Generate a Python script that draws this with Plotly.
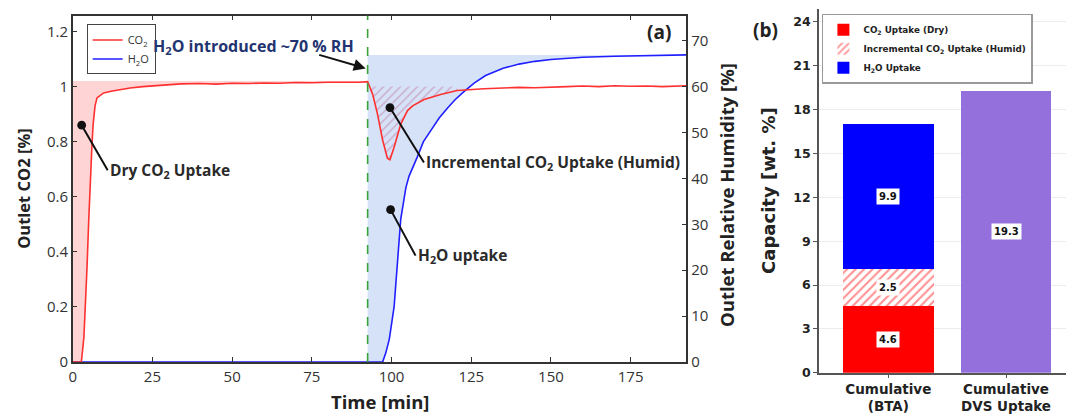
import numpy as np
import plotly.graph_objects as go

# ---------------- data: panel (a) ----------------
co2_time = [0, 2.7, 3.5, 4.0, 4.5, 5.0, 5.5, 6.0, 6.4, 7.0, 7.6, 8.5, 9.7, 12, 15, 18, 22, 28,
            34, 40, 45, 50, 55, 60, 65, 70, 75, 80, 85, 90, 92.5, 94.1, 95.6, 97.2, 98.7, 99.5,
            100.8, 102.9, 105, 106.6, 110.2, 115.4, 120.6, 125, 129, 135, 140, 145, 150, 155,
            160, 165, 170, 175, 180, 185, 192.5]
co2_value = [0, 0, 0.09, 0.2, 0.35, 0.51, 0.675, 0.78, 0.864, 0.93, 0.959, 0.968, 0.977, 0.983,
             0.99, 0.995, 1.0, 1.006, 1.01, 1.011, 1.009, 1.012, 1.011, 1.013, 1.012, 1.015,
             1.014, 1.016, 1.015, 1.016, 1.018, 0.971, 0.90, 0.806, 0.74, 0.734, 0.78, 0.864,
             0.913, 0.93, 0.953, 0.971, 0.986, 0.99, 0.992, 0.995, 0.997, 0.996, 0.999, 1.0,
             1.002, 1.0, 1.003, 1.001, 1.002, 1.0, 1.003]

h2o_time = [0, 92.5, 97.2, 98.2, 99.3, 100.8, 101.9, 102.9, 104.5, 105.5, 108.1, 110, 112.3, 115,
            117.5, 120, 122.7, 126, 129.5, 135, 140, 145, 150, 160, 170, 180, 192.5]
h2o_value = [0, 0, 0, 2, 5, 12, 22.7, 31.2, 38, 40.5, 44.7, 48, 50.4, 53.2, 55.3, 57.2, 58.9,
             60.8, 62.4, 64.0, 64.9, 65.5, 65.9, 66.4, 66.6, 66.8, 66.9]

h2o_start = 92.5          # time humid gas introduced [min]
dry_co2_level = 1.02      # inlet CO2 level used for dry uptake shading
humid_co2_level = 1.0     # reference level for incremental humid uptake
hatch_end = 121           # end of incremental-uptake region [min]

# ---------------- data: panel (b) ----------------
bar_categories = ["Cumulative<br>(BTA)", "Cumulative<br>DVS Uptake"]
co2_dry_uptake = 4.6
co2_humid_increment = 2.5
h2o_uptake = 9.9
dvs_uptake = 19.3

# ---------------- styling ----------------
RED = "#ff3030"
BLUE = "#2020ff"
AX = "#333333"
FONT_A = "Open Sans"
FONT_B = "DejaVu Sans"
W, H = 1066, 419

t = np.array(co2_time, dtype=float)
c = np.array(co2_value, dtype=float)
th = np.array(h2o_time, dtype=float)
h = np.array(h2o_value, dtype=float)

fig = go.Figure()

# --- H2O shaded uptake (RH axis = 'y', drawn underneath) ---
mh = th >= h2o_start
fig.add_trace(go.Scatter(x=th[mh], y=np.full(mh.sum(), h.max()), mode="lines",
                         line=dict(width=0), showlegend=False, hoverinfo="skip",
                         xaxis="x", yaxis="y"))
fig.add_trace(go.Scatter(x=th[mh], y=h[mh], mode="lines", line=dict(width=0),
                         fill="tonexty", fillcolor="#d5e2f7", showlegend=False,
                         hoverinfo="skip", xaxis="x", yaxis="y"))
# H2O line
fig.add_trace(go.Scatter(x=th, y=h, mode="lines", name="H<sub>2</sub>O",
                         line=dict(color=BLUE, width=1.6), xaxis="x", yaxis="y",
                         legend="legend"))

# --- dry CO2 shaded uptake (CO2 axis = 'y2') ---
md = t <= h2o_start
fig.add_trace(go.Scatter(x=t[md], y=np.full(md.sum(), dry_co2_level), mode="lines",
                         line=dict(width=0), showlegend=False, hoverinfo="skip",
                         xaxis="x", yaxis="y2"))
fig.add_trace(go.Scatter(x=t[md], y=np.minimum(c[md], dry_co2_level), mode="lines",
                         line=dict(width=0), fill="tonexty",
                         fillcolor="rgba(255,60,60,0.22)", showlegend=False,
                         hoverinfo="skip", xaxis="x", yaxis="y2"))

# --- incremental humid CO2 uptake (hatched) ---
mi = (t >= h2o_start) & (t <= hatch_end)
fig.add_trace(go.Scatter(x=t[mi], y=np.full(mi.sum(), humid_co2_level), mode="lines",
                         line=dict(width=0), showlegend=False, hoverinfo="skip",
                         xaxis="x", yaxis="y2"))
fig.add_trace(go.Scatter(x=t[mi], y=np.minimum(c[mi], humid_co2_level), mode="lines",
                         line=dict(width=0), fill="tonexty", fillcolor="rgba(0,0,0,0)",
                         fillpattern=dict(shape="/", fgcolor="#c06a96", bgcolor="rgba(0,0,0,0)",
                                          size=6, solidity=0.22),
                         showlegend=False, hoverinfo="skip", xaxis="x", yaxis="y2"))
# CO2 line
fig.add_trace(go.Scatter(x=t, y=c, mode="lines", name="CO<sub>2</sub>",
                         line=dict(color=RED, width=1.6), xaxis="x", yaxis="y2",
                         legend="legend"))

# ---------------- panel (b) bars ----------------
fig.add_trace(go.Bar(x=[bar_categories[0]], y=[co2_dry_uptake], name="CO<sub>2</sub> Uptake (Dry)",
                     marker=dict(color="#ff0000", line=dict(width=0)), width=0.77,
                     xaxis="x2", yaxis="y3", legend="legend2"))
fig.add_trace(go.Bar(x=[bar_categories[0]], y=[co2_humid_increment],
                     name="Incremental CO<sub>2</sub> Uptake (Humid)",
                     marker=dict(color="white", line=dict(width=0),
                                 pattern=dict(shape="/", fgcolor="#ff2020", bgcolor="white",
                                              size=6, solidity=0.35)),
                     width=0.77, xaxis="x2", yaxis="y3", legend="legend2"))
fig.add_trace(go.Bar(x=[bar_categories[0]], y=[h2o_uptake], name="H<sub>2</sub>O Uptake",
                     marker=dict(color="#0000ff", line=dict(width=0)), width=0.77,
                     xaxis="x2", yaxis="y3", legend="legend2"))
fig.add_trace(go.Bar(x=[bar_categories[1]], y=[dvs_uptake], name="DVS",
                     marker=dict(color="#9370db", line=dict(width=0)), width=0.77,
                     showlegend=False, xaxis="x2", yaxis="y3"))

# bar value labels at segment midpoints
seg_vals = [co2_dry_uptake, co2_humid_increment, h2o_uptake]
bottoms = np.concatenate([[0], np.cumsum(seg_vals)[:-1]])
annotations = []
for v, b in zip(seg_vals, bottoms):
    annotations.append(dict(x=bar_categories[0], y=b + v / 2, xref="x2", yref="y3",
                            text=f"<b>{v:.1f}</b>", showarrow=False, bgcolor="white",
                            borderpad=2, font=dict(family=FONT_B, size=10, color="#111")))
annotations.append(dict(x=bar_categories[1], y=dvs_uptake / 2, xref="x2", yref="y3",
                        text=f"<b>{dvs_uptake:.1f}</b>", showarrow=False, bgcolor="white",
                        borderpad=2, font=dict(family=FONT_B, size=10, color="#111")))

# ---------------- panel (a) annotations ----------------
lab_font = dict(family=FONT_A, size=15.5, color="#2a2a2a")
annotations += [
    dict(x=2.8, y=0.86, xref="x", yref="y2", text="<b>Dry CO<sub>2</sub> Uptake</b>",
         showarrow=True, arrowhead=6, arrowsize=1.1, arrowwidth=2, arrowcolor="#111",
         ax=26, ay=45, xanchor="left", yanchor="middle", font=lab_font),
    dict(x=99.5, y=0.924, xref="x", yref="y2",
         text="<b>Incremental CO<sub>2</sub> Uptake (Humid)</b>",
         showarrow=True, arrowhead=6, arrowsize=1.1, arrowwidth=2, arrowcolor="#111",
         ax=34, ay=55, xanchor="left", yanchor="middle", font=lab_font),
    dict(x=99.7, y=33.2, xref="x", yref="y", text="<b>H<sub>2</sub>O uptake</b>",
         showarrow=True, arrowhead=6, arrowsize=1.1, arrowwidth=2, arrowcolor="#111",
         ax=25, ay=46, xanchor="left", yanchor="middle", font=lab_font),
    dict(x=56.6, y=1.147, xref="x", yref="y2", xanchor="center", yanchor="middle",
         text="<b>H<sub>2</sub>O introduced ~70 % RH</b>", showarrow=False,
         font=dict(family=FONT_A, size=16, color="#1f3470")),
    dict(x=91.9, y=1.066, xref="x", yref="y2", text="", showarrow=True, arrowhead=2,
         arrowsize=1.2, arrowwidth=2, arrowcolor="#111", ax=-48, ay=-14),
    dict(x=672 / W, y=1 - 33 / H, xref="paper", yref="paper", text="<b>(a)</b>",
         showarrow=False, xanchor="right", yanchor="middle",
         font=dict(family=FONT_A, size=19, color="#222")),
    dict(x=764 / W, y=1 - 31 / H, xref="paper", yref="paper", text="<b>(b)</b>",
         showarrow=False, xanchor="center", yanchor="middle",
         font=dict(family=FONT_A, size=19, color="#222")),
    # axis titles
    dict(x=20 / W, y=1 - 192 / H, xref="paper", yref="paper", text="<b>Outlet CO2 [%]</b>",
         textangle=-90, showarrow=False, xanchor="center", yanchor="middle",
         font=dict(family=FONT_A, size=16.5, color="#222")),
    dict(x=725 / W, y=1 - 199 / H, xref="paper", yref="paper",
         text="<b>Outlet Relative Humidity [%]</b>", textangle=-90, showarrow=False,
         xanchor="center", yanchor="middle", font=dict(family=FONT_A, size=18.5, color="#222")),
    dict(x=377 / W, y=1 - 410 / H, xref="paper", yref="paper", text="<b>Time [min]</b>",
         showarrow=False, xanchor="center", yanchor="middle",
         font=dict(family=FONT_A, size=18.5, color="#222")),
    dict(x=768 / W, y=1 - 195 / H, xref="paper", yref="paper",
         text="<b>Capacity [wt. %]</b>", textangle=-90, showarrow=False,
         xanchor="center", yanchor="middle",
         font=dict(family=FONT_B, size=18, color="#222")),
]

shapes = [dict(type="line", x0=h2o_start, x1=h2o_start, xref="x", y0=0, y1=1,
               yref="y domain", line=dict(color="#3aa03a", width=1.6, dash="dash"))]

tick_a = dict(family=FONT_A, size=15, color="#333")
fig.update_layout(
    width=W, height=H, margin=dict(l=0, r=0, t=0, b=0),
    paper_bgcolor="white", plot_bgcolor="rgba(0,0,0,0)",
    barmode="stack", bargap=0,
    xaxis=dict(domain=[69 / W, 685 / W], range=[0, 192.5], anchor="y",
               tickvals=[0, 25, 50, 75, 100, 125, 150, 175], ticks="inside", ticklen=5,
               tickwidth=1.3, tickcolor=AX, showline=True, linecolor=AX, linewidth=1.5,
               mirror="ticks", showgrid=False, zeroline=False, tickfont=tick_a),
    yaxis=dict(domain=[1 - 370 / H, 1 - 16 / H], range=[0, 75.45], anchor="x", side="right",
               tickvals=[0, 10, 20, 30, 40, 50, 60, 70], ticks="inside", ticklen=5,
               tickwidth=1.3, tickcolor=AX, showline=True, linecolor=AX, linewidth=1.5,
               showgrid=False, zeroline=False, tickfont=tick_a),
    yaxis2=dict(overlaying="y", range=[0, 1.2575], anchor="x", side="left",
                tickvals=[0, 0.2, 0.4, 0.6, 0.8, 1.0, 1.2],
                ticktext=["0", "0.2", "0.4", "0.6", "0.8", "1", "1.2"],
                ticks="inside", ticklen=5, tickwidth=1.3, tickcolor=AX, showline=True,
                linecolor=AX, linewidth=1.5, showgrid=False, zeroline=False, tickfont=tick_a),
    xaxis2=dict(domain=[818 / W, 1.0], anchor="y3", range=[-0.59, 1.51], type="category",
                ticks="outside", ticklen=3, tickcolor="#555", showline=True, linecolor="#555",
                linewidth=1.5, showgrid=False,
                tickfont=dict(family=FONT_B, size=13.5, color="#222", weight="bold")),
    yaxis3=dict(domain=[1 - 381 / H, 1 - 9 / H], anchor="x2", range=[0, 24.9],
                tickvals=[0, 3, 6, 9, 12, 15, 18, 21, 24], ticks="outside", ticklen=4,
                tickcolor="#555", showline=True, linecolor="#555", linewidth=1.5,
                showgrid=True, gridcolor="#ececec", gridwidth=1, zeroline=False,
                tickfont=dict(family=FONT_B, size=12.5, color="#222", weight="bold")),
    legend=dict(x=83 / W, y=1 - 25 / H, xanchor="left", yanchor="top", bgcolor="white",
                bordercolor="#444", borderwidth=1, traceorder="reversed",
                font=dict(family=FONT_A, size=11, color="#333"), itemwidth=30,
                tracegroupgap=0),
    legend2=dict(x=821 / W, y=1 - 14 / H, xanchor="left", yanchor="top", bgcolor="white",
                 bordercolor="#999", borderwidth=1.5, traceorder="normal",
                 font=dict(family=FONT_B, size=8.8, color="#222", weight="bold"),
                 itemwidth=30, tracegroupgap=0),
    annotations=annotations, shapes=shapes,
)

post = ("document.documentElement.style.margin='0';document.body.style.margin='0';"
        "document.documentElement.style.overflow='hidden';document.body.style.overflow='hidden';")
fig.write_html("out.html", post_script=post, config={"displayModeBar": False})
